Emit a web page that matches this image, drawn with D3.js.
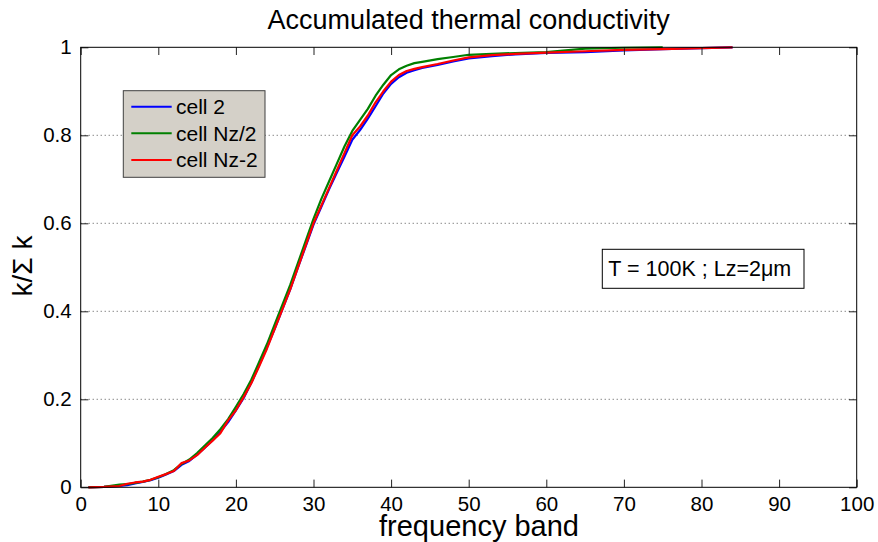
<!DOCTYPE html>
<html>
<head>
<meta charset="utf-8">
<script src="https://cdn.jsdelivr.net/npm/d3@7"></script>
<style>
  body { margin: 0; background: #fff; }
  svg { font-family: "Liberation Sans", Arial, sans-serif; }
</style>
</head>
<body>
<div id="chart"></div>
<script>
// frequency bands where the curves were read
var bands = [1, 3, 5, 6, 7, 8, 9, 10, 11, 12, 13, 14, 15, 16, 17, 18, 19, 20, 21, 22, 23, 24, 25, 26, 27, 28, 29, 30,
  31, 32, 33, 34, 35, 36, 37, 38, 39, 40, 41, 42, 43, 44, 46, 48, 50, 53, 56, 60, 65, 70, 75, 80, 84];

var cell2 = [0, 0.001, 0.003, 0.005, 0.009, 0.012, 0.016, 0.022, 0.029, 0.037, 0.051, 0.060, 0.074, 0.090, 0.107, 0.126, 0.148, 0.175, 0.203, 0.238,
  0.278, 0.318, 0.360, 0.405, 0.450, 0.500, 0.548, 0.597, 0.637, 0.677, 0.715, 0.752, 0.790, 0.812, 0.838, 0.866, 0.895, 0.917, 0.932, 0.942,
  0.948, 0.953, 0.960, 0.968, 0.975, 0.980, 0.984, 0.987, 0.989, 0.993, 0.996, 0.998, 1.0];

var cellNzHalf = [0, 0.001, 0.006, 0.007, 0.010, 0.013, 0.017, 0.023, 0.030, 0.039, 0.053, 0.063, 0.078, 0.095, 0.112, 0.132, 0.155, 0.183, 0.212, 0.245,
  0.285, 0.325, 0.370, 0.415, 0.460, 0.510, 0.560, 0.610, 0.655, 0.695, 0.735, 0.775, 0.810, 0.835, 0.860, 0.890, 0.915, 0.937, 0.950, 0.958,
  0.964, 0.967, 0.973, 0.978, 0.983, 0.985, 0.987, 0.989, 0.997, 0.999, 1.0, null, null];

var cellNzMinus2 = [0, 0.001, 0.003, 0.008, 0.011, 0.013, 0.017, 0.024, 0.030, 0.037, 0.055, 0.061, 0.073, 0.090, 0.106, 0.123, 0.152, 0.175, 0.205, 0.237,
  0.275, 0.315, 0.360, 0.405, 0.450, 0.500, 0.550, 0.600, 0.640, 0.680, 0.720, 0.760, 0.800, 0.820, 0.845, 0.875, 0.900, 0.922, 0.937, 0.946,
  0.951, 0.955, 0.962, 0.970, 0.977, 0.982, 0.985, 0.988, 0.991, 0.994, 0.996, 0.998, 1.0];

var seriesNames = ["cell 2", "cell Nz/2", "cell Nz-2"];
var seriesColors = ["#0000ff", "#008000", "#ff0000"];
var seriesValues = [cell2, cellNzHalf, cellNzMinus2];

var xTicks = [0, 10, 20, 30, 40, 50, 60, 70, 80, 90, 100];
var yTicks = [0, 0.2, 0.4, 0.6, 0.8, 1];
var yTickLabels = ["0", "0.2", "0.4", "0.6", "0.8", "1"];

var width = 878, height = 542;
var plotLeft = 80.7, plotRight = 856.7, plotTop = 47.3, plotBottom = 487.3;

var svg = d3.select("#chart").append("svg")
  .attr("width", width)
  .attr("height", height);

var x = d3.scaleLinear().domain([0, 100]).range([plotLeft, plotRight]);
var y = d3.scaleLinear().domain([0, 1]).range([plotBottom, plotTop]);

// dotted grid on y
svg.append("g").selectAll("line")
  .data(yTicks.slice(1, -1))
  .join("line")
  .attr("x1", plotLeft).attr("x2", plotRight)
  .attr("y1", d => y(d)).attr("y2", d => y(d))
  .style("stroke", "#555")
  .style("stroke-width", 1)
  .style("stroke-dasharray", "1,3");

// curves
var line = d3.line()
  .defined(d => d[1] != null)
  .x(d => x(d[0]))
  .y(d => y(d[1]));

seriesValues.forEach(function(vals, i) {
  svg.append("path")
    .datum(bands.map((b, j) => [b, vals[j]]))
    .attr("d", line)
    .style("fill", "none")
    .style("stroke", seriesColors[i])
    .style("stroke-width", 2.2)
    .style("stroke-linejoin", "round");
});

// axes, ticks inward
var xAxis = svg.append("g")
  .attr("transform", "translate(0," + plotBottom + ")")
  .call(d3.axisBottom(x).tickValues(xTicks).tickSizeInner(-7.7).tickSizeOuter(0).tickPadding(9).tickFormat(d3.format("d")));
var xTop = svg.append("g")
  .attr("transform", "translate(0," + plotTop + ")")
  .call(d3.axisTop(x).tickValues(xTicks).tickSizeInner(-7.7).tickSizeOuter(0).tickFormat(""));
var yAxis = svg.append("g")
  .attr("transform", "translate(" + plotLeft + ",0)")
  .call(d3.axisLeft(y).tickValues(yTicks).tickSizeInner(-7.7).tickSizeOuter(0).tickPadding(9)
    .tickFormat((d, i) => yTickLabels[i]));
var yRight = svg.append("g")
  .attr("transform", "translate(" + plotRight + ",0)")
  .call(d3.axisRight(y).tickValues(yTicks).tickSizeInner(-7.7).tickSizeOuter(0).tickFormat(""));

[xAxis, xTop, yAxis, yRight].forEach(function(g) {
  g.select(".domain").remove();
  g.selectAll("line").style("stroke", "#222").style("stroke-width", 1);
  g.selectAll("text").style("font-size", "20.5px").style("fill", "#000")
    .style("font-family", "'Liberation Sans', Arial, sans-serif");
});

// frame
svg.append("rect")
  .attr("x", plotLeft).attr("y", plotTop)
  .attr("width", plotRight - plotLeft).attr("height", plotBottom - plotTop)
  .style("fill", "none")
  .style("stroke", "#000")
  .style("stroke-width", 1);

// title and axis labels
svg.append("text")
  .attr("x", (plotLeft + plotRight) / 2)
  .attr("y", 29)
  .style("text-anchor", "middle")
  .style("font-size", "27px")
  .text("Accumulated thermal conductivity");

svg.append("text")
  .attr("x", 479)
  .attr("y", 536)
  .style("text-anchor", "middle")
  .style("font-size", "29px")
  .text("frequency band");

svg.append("text")
  .attr("transform", "translate(32,266) rotate(-90)")
  .style("text-anchor", "middle")
  .style("font-size", "28px")
  .text("k/\u03A3 k");

// legend
var legend = svg.append("g").attr("transform", "translate(123.3,90.7)");
legend.append("rect")
  .attr("width", 141.7).attr("height", 86.6)
  .style("fill", "#d4d0c8")
  .style("stroke", "#404040")
  .style("stroke-width", 1);
seriesNames.forEach(function(name, i) {
  var ly = 16 + i * 26.6;
  legend.append("line")
    .attr("x1", 8).attr("x2", 48.4)
    .attr("y1", ly).attr("y2", ly)
    .style("stroke", seriesColors[i])
    .style("stroke-width", 2);
  legend.append("text")
    .attr("x", 52.7).attr("y", ly + 7.5)
    .style("font-size", "21px")
    .text(name);
});

// annotation
var note = svg.append("g").attr("transform", "translate(602.3,249.3)");
note.append("rect")
  .attr("width", 201.7).attr("height", 39)
  .style("fill", "#fff")
  .style("stroke", "#000")
  .style("stroke-width", 1);
note.append("text")
  .attr("x", 6).attr("y", 27)
  .style("font-size", "21.5px")
  .text("T = 100K ; Lz=2\u03BCm");
</script>
</body>
</html>
